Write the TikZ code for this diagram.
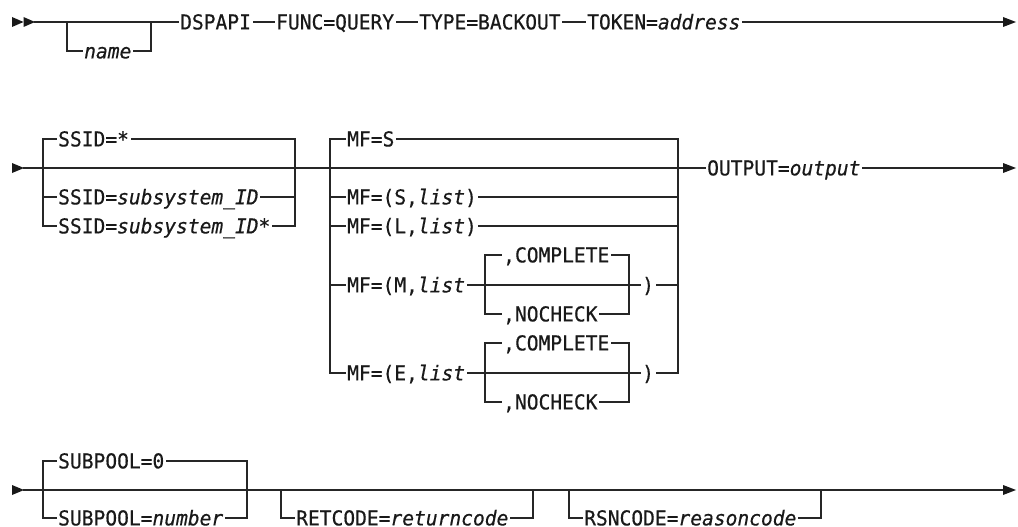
\documentclass[tikz,border=0pt]{standalone}
\usepackage{fontspec}
\setmonofont[FakeStretch=0.955,FakeBold=0.5]{DejaVu Sans Mono}
\begin{document}
\begin{tikzpicture}[x=1pt,y=-1pt,
  rail/.style={draw=black!85, line width=1.2pt, line cap=rect},
  kw/.style={font=\ttfamily\fontsize{20.5}{24}\selectfont, inner xsep=2pt, inner ysep=0pt,
             text height=14.8pt, text depth=0pt, anchor=west, text=black!90},
  tip/.style={fill=black!90}]
\useasboundingbox (0,0) rectangle (1018,527);

% ---------- Row 1 ----------
\node[kw] (dsp)  at (178,22) {DSPAPI};
\node[kw] (func) at (274,22) {FUNC=QUERY};
\node[kw] (type) at (417,22) {TYPE=BACKOUT};
\node[kw] (tok)  at (585,22) {TOKEN=\textit{address}};
\node[kw] (name) at (82,51)  {\textit{name}};
\coordinate (s1) at (35,22);
\coordinate (e1) at (1003,22);
\fill[tip] (12,17) -- (23.5,22) -- (12,27) -- cycle;
\fill[tip] (23.5,17) -- (35,22) -- (23.5,27) -- cycle;
\draw[rail] (s1) -- (dsp.west);
\draw[rail] (67,22) |- (name.west);
\draw[rail] (name.east) -| (151,22);
\draw[rail] (dsp) -- (func);
\draw[rail] (func) -- (type);
\draw[rail] (type) -- (tok);
\draw[rail] (tok) -- (e1);
\fill[tip] (1003,17) -- (1016,22) -- (1003,27) -- cycle;

% ---------- Row 2 ----------
\coordinate (s2) at (24,168);
\coordinate (e2) at (1003,168);
\fill[tip] (12,163) -- (24,168) -- (12,173) -- cycle;
\node[kw] (ssA) at (56,139) {SSID=*};
\node[kw] (ssB) at (56,197) {SSID=\textit{subsystem\_ID}};
\node[kw] (ssC) at (56,226) {SSID=\textit{subsystem\_ID*}};
\draw[rail] (ssA.west) -| (43,226) -- (ssC.west);
\draw[rail] (43,197) -- (ssB.west);
\draw[rail] (ssA.east) -| (295,226) -- (ssC.east);
\draw[rail] (ssB.east) -- (295,197);

\node[kw] (mfS) at (345,139) {MF=S};
\node[kw] (mfSl) at (345,197) {MF=(S,\textit{list})};
\node[kw] (mfLl) at (345,226) {MF=(L,\textit{list})};
\node[kw] (mfM) at (345,285) {MF=(M,\textit{list}};
\node[kw] (mfE) at (345,373) {MF=(E,\textit{list}};
\draw[rail] (mfS.west) -| (330,373) -- (mfE.west);
\draw[rail] (330,197) -- (mfSl.west);
\draw[rail] (330,226) -- (mfLl.west);
\draw[rail] (330,285) -- (mfM.west);
\draw[rail] (mfS.east) -| (678,373);
\draw[rail] (mfSl.east) -- (678,197);
\draw[rail] (mfLl.east) -- (678,226);

% M inner choice
\node[kw] (mC) at (501,255) {,COMPLETE};
\node[kw] (mN) at (501,314) {,NOCHECK};
\node[kw] (mP) at (640,285) {)};
\draw[rail] (mC.west) -| (485,314) -- (mN.west);
\draw[rail] (mC.east) -| (629,314) -- (mN.east);
\draw[rail] (mfM.east) -- (mP.west);
\draw[rail] (mP.east) -- (678,285);

% E inner choice
\node[kw] (eC) at (501,343) {,COMPLETE};
\node[kw] (eN) at (501,402) {,NOCHECK};
\node[kw] (eP) at (640,373) {)};
\draw[rail] (eC.west) -| (485,402) -- (eN.west);
\draw[rail] (eC.east) -| (629,402) -- (eN.east);
\draw[rail] (mfE.east) -- (eP.west);
\draw[rail] (eP.east) -- (678,373);

\node[kw] (out) at (705,168) {OUTPUT=\textit{output}};
\draw[rail] (s2) -- (out.west);
\draw[rail] (out) -- (e2);
\fill[tip] (1003,163) -- (1016,168) -- (1003,173) -- cycle;

% ---------- Row 3 ----------
\coordinate (s3) at (24,490);
\coordinate (e3) at (1003,490);
\fill[tip] (12,485) -- (24,490) -- (12,495) -- cycle;
\draw[rail] (s3) -- (e3);
\fill[tip] (1003,485) -- (1016,490) -- (1003,495) -- cycle;
\node[kw] (sp0) at (56,461) {SUBPOOL=0};
\node[kw] (spn) at (56,518) {SUBPOOL=\textit{number}};
\draw[rail] (sp0.west) -| (43,518) -- (spn.west);
\draw[rail] (sp0.east) -| (247,518) -- (spn.east);
\node[kw] (ret) at (294,518) {RETCODE=\textit{returncode}};
\draw[rail] (281,490) |- (ret.west);
\draw[rail] (ret.east) -| (533,490);
\node[kw] (rsn) at (582,518) {RSNCODE=\textit{reasoncode}};
\draw[rail] (569,490) |- (rsn.west);
\draw[rail] (rsn.east) -| (821,490);
\end{tikzpicture}
\end{document}
